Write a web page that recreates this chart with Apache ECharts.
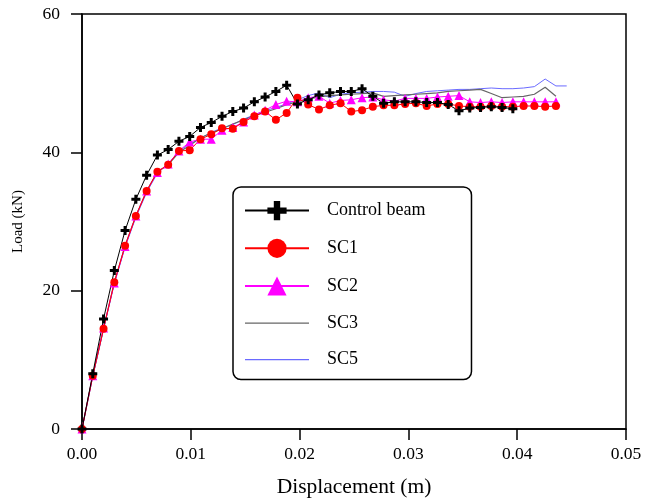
<!DOCTYPE html>
<html lang="en">
  <head>
    <meta charset="UTF-8" />
    <title>Load-displacement</title>
    <script src="https://cdn.jsdelivr.net/npm/echarts/dist/echarts.min.js"></script>
    <style>
      body {
        margin: 0;
        background: #fff;
      }
      #chart {
        width: 646px;
        height: 499px;
      }
    </style>
  </head>
  <body>
    <div id="chart"></div>

    <script>
      // displacement (m) of each load step
      var disp = [
        0, 0.00099, 0.00198, 0.00297, 0.00396, 0.00495, 0.00594, 0.00693,
        0.00792, 0.00891, 0.0099, 0.01089, 0.01188, 0.01287, 0.01386, 0.01485,
        0.01584, 0.01683, 0.01782, 0.01881, 0.0198, 0.02079, 0.02178, 0.02277,
        0.02376, 0.02475, 0.02574, 0.02673, 0.02772, 0.02871, 0.0297, 0.03069,
        0.03168, 0.03267, 0.03366, 0.03465, 0.03564, 0.03663, 0.03762, 0.03861,
        0.0396, 0.04059, 0.04158, 0.04257, 0.04356, 0.04455,
      ];

      // load (kN)
      var controlBeam = [
        0, 8.0, 15.9, 22.9, 28.7, 33.2, 36.7, 39.6, 40.4, 41.6, 42.3, 43.6,
        44.3, 45.2, 45.9, 46.4, 47.3, 48.0, 48.8, 49.7, 47.0, 47.6, 48.3, 48.6,
        48.8, 48.8, 49.2, 48.1, 47.1, 47.3, 47.3, 47.3, 47.2, 47.2, 46.9, 46.0,
        46.4, 46.5, 46.6, 46.5, 46.3,
      ];
      var sc1 = [
        0, 7.7, 14.5, 21.2, 26.5, 30.8, 34.4, 37.2, 38.2, 40.2, 40.3, 41.9,
        42.6, 43.5, 43.4, 44.4, 45.2, 45.9, 44.7, 45.7, 47.9, 46.9, 46.2, 46.8,
        47.1, 45.9, 46.1, 46.6, 46.8, 46.8, 47.0, 47.1, 46.7, 47.0, 47.0, 46.7,
        46.6, 46.6, 46.7, 46.6, 46.6, 46.7, 46.7, 46.6, 46.7,
      ];
      var sc2 = [
        0, 7.7, 14.6, 21.1, 26.4, 30.8, 34.4, 37.1, 38.3, 40.2, 41.5, 41.9,
        41.9, 43.2, 43.6, 44.4, 45.4, 46.1, 46.9, 47.4, 47.3, 47.9, 48.1, 47.1,
        47.5, 47.6, 47.9, 48.0, 47.6, 47.4, 47.8, 47.8, 47.8, 48.0, 48.1, 48.2,
        47.3, 47.2, 47.3, 47.2, 47.3, 47.3, 47.3, 47.3, 47.3,
      ];
      var sc3 = [
        0, 7.7, 14.5, 21.2, 26.5, 30.8, 34.4, 37.2, 38.2, 40.0, 41.0, 42.1,
        42.8, 43.4, 44.1, 44.7, 45.3, 45.8, 46.3, 46.9, 47.3, 47.7, 48.0, 48.2,
        48.3, 48.4, 48.5, 48.6, 48.1, 48.2, 48.3, 48.4, 48.5, 48.6, 48.8, 48.9,
        49.0, 49.1, 48.5, 47.9, 48.0, 48.1, 48.4, 49.4, 48.1,
      ];
      var sc5 = [
        0, 7.6, 14.4, 21.0, 26.3, 30.6, 34.2, 37.0, 38.3, 40.2, 41.2, 42.0,
        42.9, 43.5, 44.0, 44.8, 45.4, 46.0, 46.5, 47.0, 47.6, 48.2, 48.6, 47.9,
        48.4, 48.6, 48.7, 48.8, 48.8, 48.7, 48.1, 48.5, 48.8, 48.9, 49.0, 49.1,
        49.1, 49.2, 49.3, 49.2, 49.2, 49.3, 49.5, 50.6, 49.6, 49.6,
      ];

      var xTicks = [0, 0.01, 0.02, 0.03, 0.04, 0.05];
      var yTicks = [0, 20, 40, 60];

      var crossPath = "path://M-1,-3H1V-1H3V1H1V3H-1V1H-3V-1H-1Z";
      var lineIcon = "path://M0,0H64V1.4H0Z";
      var font = "Liberation Serif";

      function pairs(values) {
        return values.map(function (v, i) {
          return [disp[i], v];
        });
      }

      var chart = echarts.init(document.getElementById("chart"));

      var option = {
        animation: false,
        backgroundColor: "#fff",
        textStyle: { fontFamily: font },
        grid: {
          left: 82,
          right: 20,
          top: 14,
          bottom: 70,
          outerBoundsMode: "none",
          show: true,
          borderColor: "#000",
          borderWidth: 1.5,
        },
        legend: {
          orient: "vertical",
          left: 233,
          top: 187,
          data: [
            "Control beam",
            "SC1",
            "SC2",
            { name: "SC3", icon: lineIcon, itemStyle: { color: "#666" } },
            { name: "SC5", icon: lineIcon, itemStyle: { color: "#6a6aff" } },
          ],
          itemWidth: 64,
          itemHeight: 24,
          itemGap: 18.5,
          padding: [14, 46, 11, 11],
          backgroundColor: "#fff",
          borderColor: "#000",
          borderWidth: 1.5,
          borderRadius: 8,
          textStyle: {
            fontFamily: font,
            fontSize: 18,
            color: "#000",
            padding: [0, 0, 0, 13],
          },
        },
        xAxis: {
          type: "value",
          min: xTicks[0],
          max: xTicks[xTicks.length - 1],
          interval: xTicks[1] - xTicks[0],
          name: "Displacement (m)",
          nameLocation: "middle",
          nameGap: 47,
          nameTextStyle: { fontFamily: font, fontSize: 21.5, color: "#000" },
          axisLine: { lineStyle: { color: "#000", width: 1.5 } },
          axisTick: { length: 11, lineStyle: { color: "#000", width: 1.5 } },
          axisLabel: {
            fontFamily: font,
            fontSize: 17.5,
            color: "#000",
            margin: 16,
            formatter: function (v) {
              return v.toFixed(2);
            },
          },
          splitLine: { show: false },
        },
        yAxis: {
          type: "value",
          min: yTicks[0],
          max: yTicks[yTicks.length - 1],
          interval: yTicks[1] - yTicks[0],
          name: "Load (kN)",
          nameLocation: "middle",
          nameGap: 56,
          nameTextStyle: { fontFamily: font, fontSize: 15, color: "#000" },
          axisLine: { lineStyle: { color: "#000", width: 1.5 } },
          axisTick: { length: 11, lineStyle: { color: "#000", width: 1.5 } },
          axisLabel: {
            fontFamily: font,
            fontSize: 17.5,
            color: "#000",
            margin: 22,
          },
          splitLine: { show: false },
        },
        series: [
          {
            name: "SC5",
            type: "line",
            data: pairs(sc5),
            symbol: "none",
            lineStyle: { color: "#6a6aff", width: 1 },
            itemStyle: { color: "#6a6aff" },
          },
          {
            name: "SC3",
            type: "line",
            data: pairs(sc3),
            symbol: "none",
            lineStyle: { color: "#666", width: 1.2 },
            itemStyle: { color: "#666" },
          },
          {
            name: "SC2",
            type: "line",
            data: pairs(sc2),
            symbol: "triangle",
            symbolSize: 9,
            lineStyle: { color: "#ff00ff", width: 1 },
            itemStyle: { color: "#ff00ff" },
          },
          {
            name: "SC1",
            type: "line",
            data: pairs(sc1),
            symbol: "circle",
            symbolSize: 8,
            lineStyle: { color: "#ff0000", width: 1 },
            itemStyle: { color: "#ff0000" },
          },
          {
            name: "Control beam",
            type: "line",
            data: pairs(controlBeam),
            symbol: crossPath,
            symbolSize: 9,
            lineStyle: { color: "#000", width: 1 },
            itemStyle: { color: "#000" },
          },
        ],
      };

      chart.setOption(option);
    </script>
  </body>
</html>
